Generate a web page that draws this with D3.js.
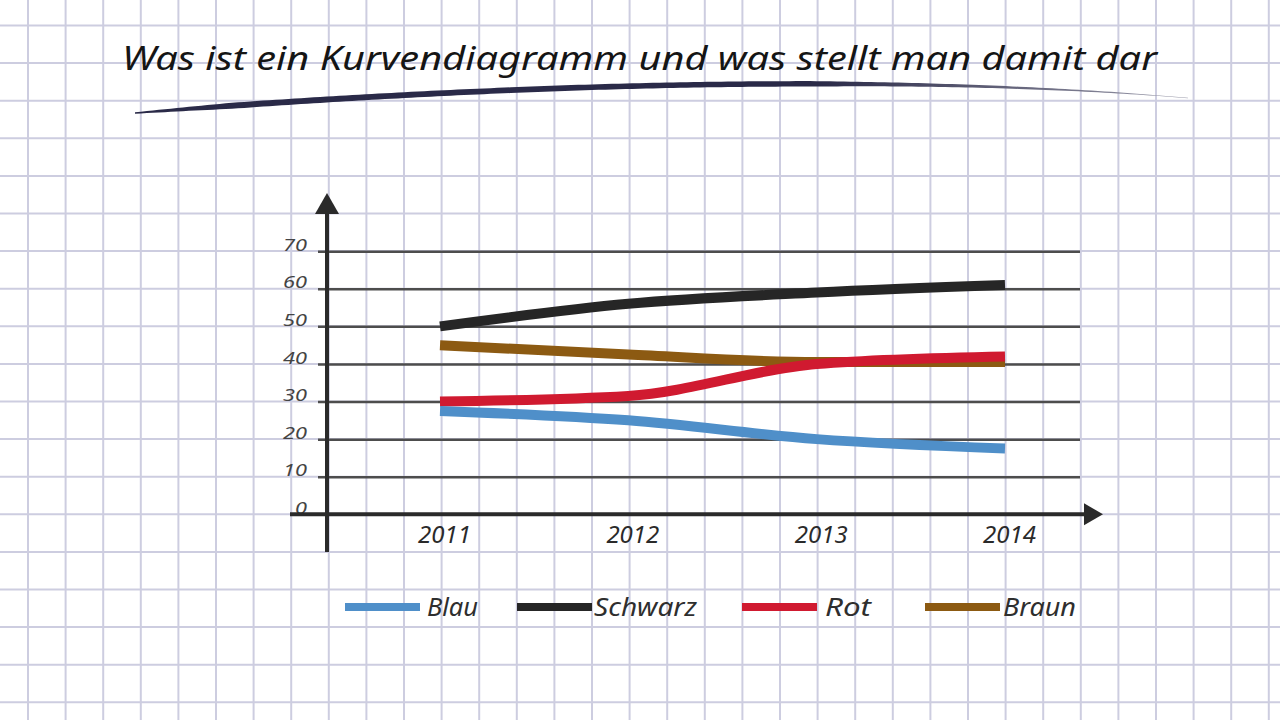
<!DOCTYPE html>
<html>
<head>
<meta charset="utf-8">
<script src="https://cdn.jsdelivr.net/npm/d3@7"></script>
<style>
  html, body { margin: 0; padding: 0; background: #ffffff; }
  svg { display: block; }
  text { font-family: "Noto Sans", "DejaVu Sans", sans-serif; font-style: italic; }
</style>
</head>
<body>
<svg id="chart" width="1280" height="720"></svg>
<script>
// ---- data ----
const title = "Was ist ein Kurvendiagramm und was stellt man damit dar";
const years = ["2011", "2012", "2013", "2014"];
const yTicks = [0, 10, 20, 30, 40, 50, 60, 70];
const seriesNames = ["Blau", "Schwarz", "Rot", "Braun"];
const seriesColors = ["#4f8fc9", "#262626", "#d01a30", "#8c5a12"];
const blau = [27.5, 25, 20, 17.5];
const schwarz = [50, 56, 59, 61];
const rot = [30, 31.5, 40, 42];
const braun = [45, 42.5, 40.5, 40.5];
const seriesValues = [blau, schwarz, rot, braun];

const svg = d3.select("#chart");
const W = 1280, H = 720;

// ---- background squared paper ----
const step = 37.6;
const bg = svg.append("g");
bg.append("rect").attr("width", W).attr("height", H).attr("fill", "#ffffff");
const vx = d3.range(28 - step, W + step, step);
const hy = d3.range(25.5 - step, H + step, step);
bg.selectAll("line.v").data(vx).join("line").attr("class", "v")
  .attr("x1", d => d).attr("x2", d => d).attr("y1", 0).attr("y2", H)
  .attr("stroke", "#cdcde0").attr("stroke-width", 2);
bg.selectAll("line.h").data(hy).join("line").attr("class", "h")
  .attr("y1", d => d).attr("y2", d => d).attr("x1", 0).attr("x2", W)
  .attr("stroke", "#cdcde0").attr("stroke-width", 2);

// ---- title ----
svg.append("text")
  .attr("x", 122).attr("y", 70)
  .attr("textLength", 1035).attr("lengthAdjust", "spacingAndGlyphs")
  .attr("font-size", 32).attr("fill", "#151515")
  .text(title);

// swoosh under title (tapered brush stroke)
(function () {
  const P = [[135, 113], [450, 88], [850, 70], [1188, 98]];
  const N = 160, top = [], bot = [];
  for (let i = 0; i <= N; i++) {
    const t = i / N, u = 1 - t;
    const b = [u * u * u, 3 * u * u * t, 3 * u * t * t, t * t * t];
    const x = b[0] * P[0][0] + b[1] * P[1][0] + b[2] * P[2][0] + b[3] * P[3][0];
    const y = b[0] * P[0][1] + b[1] * P[1][1] + b[2] * P[2][1] + b[3] * P[3][1];
    let w;
    if (t < 0.1) w = 1.5 + 4.5 * (t / 0.1);
    else if (t < 0.66) w = 6 - 0.6 * ((t - 0.1) / 0.56);
    else w = 5.4 - 5.0 * Math.pow((t - 0.66) / 0.34, 0.7);
    top.push([x, y - w / 2]);
    bot.push([x, y + w / 2]);
  }
  const pts = top.concat(bot.reverse());
  const grad = svg.append("defs").append("linearGradient").attr("id", "sw")
    .attr("x1", "0%").attr("x2", "100%");
  grad.append("stop").attr("offset", "0%").attr("stop-color", "#2a2a48");
  grad.append("stop").attr("offset", "65%").attr("stop-color", "#2a2a48");
  grad.append("stop").attr("offset", "100%").attr("stop-color", "#9a9aaa");
  svg.append("path")
    .attr("d", d3.line()(pts) + "Z")
    .attr("fill", "url(#sw)");
})();

// ---- scales ----
const x = d3.scalePoint().domain(years).range([440, 1005]);
const y = d3.scaleLinear().domain([0, 70]).range([514.3, 251.2]);
const axisX = 327;

// ---- y gridlines / ticks ----
const gy = svg.append("g").attr("transform", `translate(${axisX},0)`)
  .call(d3.axisLeft(y).tickValues(yTicks).tickSize(-(1080 - axisX)).tickPadding(0));
gy.select(".domain").remove();
gy.selectAll(".tick line")
  .attr("x1", -9).attr("x2", 1080 - axisX)
  .attr("stroke", "#4d4d4d").attr("stroke-width", 2.5);
gy.selectAll(".tick text")
  .attr("x", -20).attr("dy", "-0.05em")
  .attr("font-size", 17).attr("fill", "#444")
  .attr("textLength", function () { return 12 * this.textContent.length; })
  .attr("lengthAdjust", "spacingAndGlyphs")
  .style("font-family", "'Noto Sans', sans-serif").style("font-style", "italic")
  .attr("text-anchor", "end");

// ---- x axis labels ----
const gx = svg.append("g").attr("transform", `translate(0,${y(0)})`)
  .call(d3.axisBottom(x).tickSize(0).tickPadding(0));
gx.select(".domain").remove();
gx.selectAll(".tick text")
  .attr("x", 4).attr("y", 29).attr("dy", 0)
  .attr("font-size", 24).attr("fill", "#2a2a2a")
  .style("font-family", "'Noto Sans', sans-serif").style("font-style", "italic");

// ---- axis lines with arrows ----
svg.append("line").attr("x1", 290).attr("x2", 1088).attr("y1", y(0)).attr("y2", y(0))
  .attr("stroke", "#2a2a2a").attr("stroke-width", 4);
svg.append("path").attr("d", d3.line()([[1084, y(0) - 11], [1103, y(0)], [1084, y(0) + 11]]) + "Z")
  .attr("fill", "#2a2a2a");
svg.append("line").attr("x1", axisX).attr("x2", axisX).attr("y1", 210).attr("y2", 552)
  .attr("stroke", "#2a2a2a").attr("stroke-width", 4);
svg.append("path").attr("d", d3.line()([[axisX - 12, 214], [axisX, 193], [axisX + 12, 214]]) + "Z")
  .attr("fill", "#2a2a2a");

// ---- series lines ----
const line = d3.line()
  .x((d, i) => x(years[i]))
  .y(d => y(d))
  .curve(d3.curveMonotoneX);
const drawOrder = [1, 3, 2, 0];
svg.append("g").selectAll("path")
  .data(drawOrder)
  .join("path")
  .attr("d", k => line(seriesValues[k]))
  .attr("fill", "none")
  .attr("stroke", k => seriesColors[k])
  .attr("stroke-width", 10)
  .attr("stroke-linecap", "butt");

// ---- legend ----
const legendLineX = [345, 517, 742, 925];
const legendTextX = [427, 594, 825, 1003];
const legendTextW = [51, 103, 46, 73];
const lg = svg.append("g");
const items = lg.selectAll("g").data(seriesNames).join("g");
items.append("line")
  .attr("x1", (d, i) => legendLineX[i]).attr("x2", (d, i) => legendLineX[i] + 75)
  .attr("y1", 607).attr("y2", 607)
  .attr("stroke", (d, i) => seriesColors[i]).attr("stroke-width", 8);
items.append("text")
  .attr("x", (d, i) => legendTextX[i]).attr("y", 616)
  .attr("font-size", 25).attr("fill", "#2e2e2e")
  .attr("textLength", (d, i) => legendTextW[i]).attr("lengthAdjust", "spacingAndGlyphs")
  .text(d => d);
</script>
</body>
</html>
